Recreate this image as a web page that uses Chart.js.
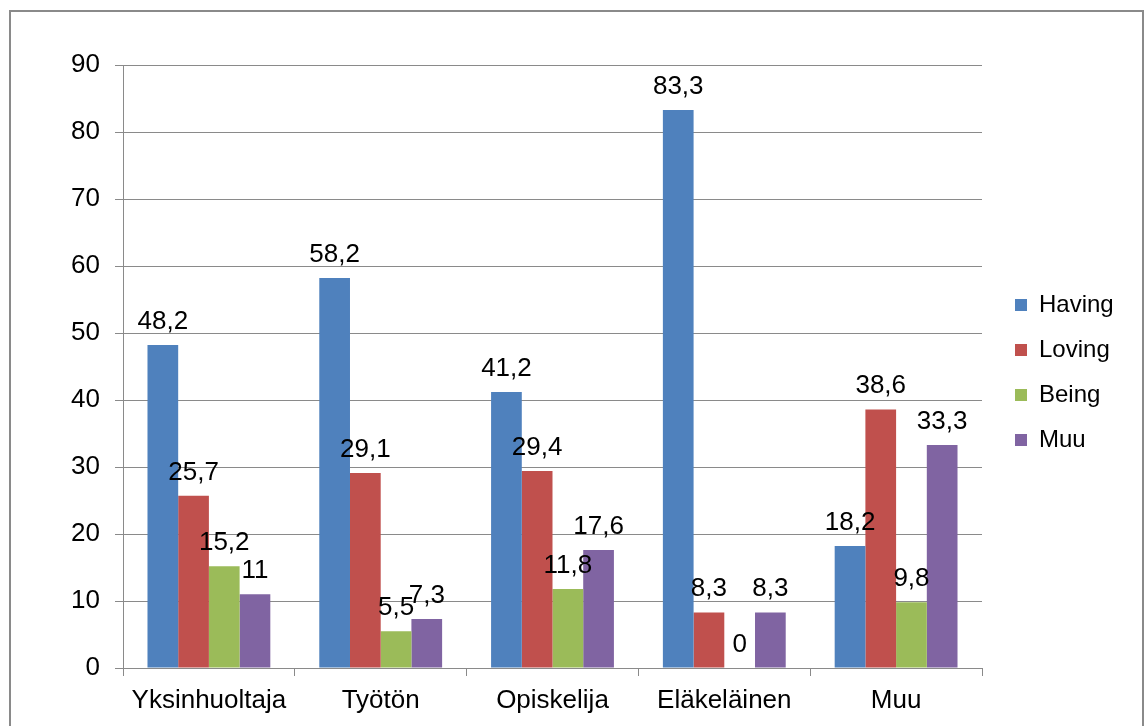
<!DOCTYPE html>
<html>
<head>
<meta charset="utf-8">
<script src="https://cdn.jsdelivr.net/npm/chart.js@4.4.1/dist/chart.umd.min.js"></script>
<style>
  html, body { margin: 0; padding: 0; background: #fff; overflow: hidden; }
  #wrap { position: relative; width: 1145px; height: 726px; }
  #c { position: absolute; left: 0; top: 0; }
  #frame { position: absolute; left: 9px; top: 10px; width: 1135px; height: 800px;
           box-sizing: border-box; border: 2px solid #8a8a8a; pointer-events: none; }
</style>
</head>
<body>
<div id="wrap">
  <canvas id="c" width="1145" height="726"></canvas>
  <div id="frame"></div>
</div>
<script>
const categories = ["Yksinhuoltaja", "Työtön", "Opiskelija", "Eläkeläinen", "Muu"];
const seriesNames = ["Having", "Loving", "Being", "Muu"];
const having = [48.2, 58.2, 41.2, 83.3, 18.2];
const loving = [25.7, 29.1, 29.4, 8.3, 38.6];
const being  = [15.2, 5.5, 11.8, 0, 9.8];
const muu    = [11, 7.3, 17.6, 8.3, 33.3];
const yTicks = [0, 10, 20, 30, 40, 50, 60, 70, 80, 90];

const colors = ["#4F81BD", "#C0504D", "#9BBB59", "#8064A2"];
const seriesValues = [having, loving, being, muu];
const FONT = "'Liberation Sans', Arial, sans-serif";
const GRID = "#8a8a8a";

const valueLabels = {
  id: "valueLabels",
  afterDatasetsDraw(chart) {
    const ctx = chart.ctx;
    ctx.save();
    ctx.font = "26px " + FONT;
    ctx.fillStyle = "#000";
    ctx.textAlign = "center";
    ctx.textBaseline = "alphabetic";
    chart.data.datasets.forEach((ds, di) => {
      const meta = chart.getDatasetMeta(di);
      meta.data.forEach((bar, i) => {
        const v = ds.data[i];
        ctx.fillText(String(v).replace(".", ","), bar.x, bar.y - 16);
      });
    });
    ctx.restore();
  }
};

new Chart(document.getElementById("c"), {
  type: "bar",
  data: {
    labels: categories,
    datasets: seriesNames.map((n, k) => ({
      label: n,
      data: seriesValues[k],
      backgroundColor: colors[k],
      borderWidth: 0,
      categoryPercentage: 0.715,
      barPercentage: 1.0
    }))
  },
  options: {
    responsive: false,
    animation: false,
    layout: { padding: { top: 19, bottom: 0, left: 0, right: 27 } },
    plugins: {
      tooltip: { enabled: false },
      legend: {
        position: "right",
        align: "center",
        maxWidth: 124,
        labels: {
          font: { family: FONT, size: 24 },
          color: "#000",
          boxWidth: 12,
          boxHeight: 12,
          padding: 21
        }
      }
    },
    scales: {
      x: {
        grid: { display: true, offset: true, drawOnChartArea: false, drawTicks: true,
                tickLength: 8, color: GRID, lineWidth: 1 },
        border: { display: true, color: GRID, width: 1 },
        ticks: { font: { family: FONT, size: 26 }, color: "#000", padding: 9,
                 maxRotation: 0, autoSkip: false },
        afterFit: s => { s.height = 58; }
      },
      xTop: {
        type: "category",
        position: "top",
        display: true,
        grid: { display: false, drawTicks: false },
        border: { display: false },
        ticks: { display: false },
        afterFit: s => { s.height = 46; }
      },
      y: {
        min: 0, max: 90,
        afterBuildTicks: s => { s.ticks = yTicks.map(v => ({ value: v })); },
        grid: { color: GRID, lineWidth: 1, tickLength: 8 },
        border: { display: true, color: GRID, width: 1 },
        ticks: { font: { family: FONT, size: 26 }, color: "#000", padding: 15 },
        afterFit: s => { s.width = 123; }
      },
      yR: {
        position: "right",
        display: true,
        grid: { display: false, drawTicks: false },
        border: { display: false },
        ticks: { display: false },
        afterFit: s => { s.width = 12; }
      }
    }
  },
  plugins: [valueLabels]
});
</script>
</body>
</html>
